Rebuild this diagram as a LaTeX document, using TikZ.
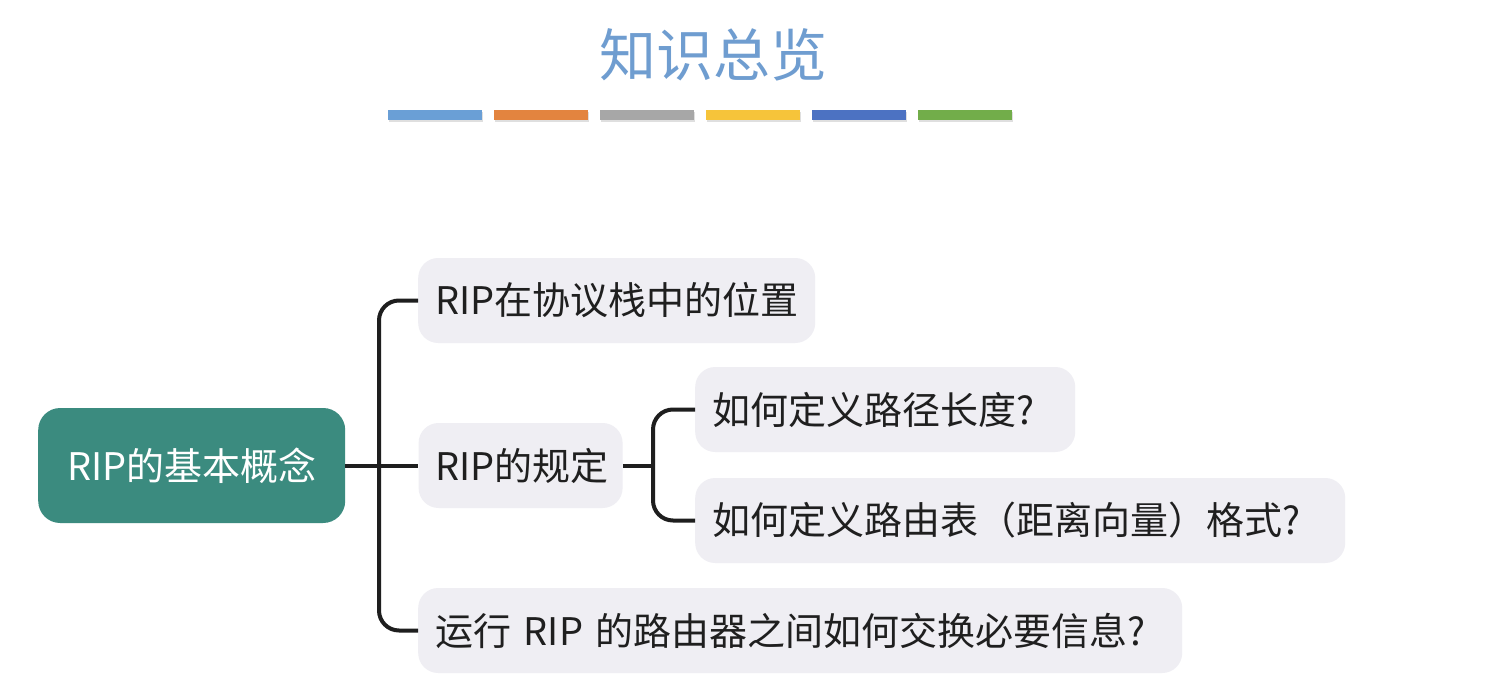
\documentclass[tikz,border=0pt]{standalone}
\usepackage{fontspec}
\setmainfont{Noto Sans CJK SC}
\usepackage{tikz}
\usetikzlibrary{positioning,shadows}
\usepackage{xcolor}

\definecolor{titleblue}{HTML}{6F9DD0}
\definecolor{rootteal}{HTML}{3B8B7F}
\definecolor{leafgray}{HTML}{EFEEF3}
\definecolor{linedark}{HTML}{1E1E1E}
\definecolor{barA}{HTML}{6A9FD6}
\definecolor{barB}{HTML}{E3843F}
\definecolor{barC}{HTML}{A7A7A7}
\definecolor{barD}{HTML}{F6C43A}
\definecolor{barE}{HTML}{4C72C2}
\definecolor{barF}{HTML}{72AD4A}

\begin{document}
\begin{tikzpicture}[x=1pt, y=-1pt,
    every node/.style={font=\fontsize{38}{42}\selectfont},
    rootbox/.style={rounded corners=22pt, fill=rootteal, text=white, minimum width=307pt, minimum height=115pt, inner sep=0pt},
    leaf/.style={rounded corners=20pt, fill=leafgray, text=black!88, minimum height=85pt, inner xsep=17pt, inner ysep=0pt, align=left},
    branch/.style={draw=linedark, line width=4pt, rounded corners=20pt},
    bar/.style={minimum width=94pt, minimum height=10pt, inner sep=0pt, drop shadow={shadow xshift=0.5pt, shadow yshift=-2pt, opacity=0.25}}]
    \useasboundingbox[fill=white] (0,0) rectangle (1491,698);

    % title and colour strip
    \node[text=titleblue, font=\fontsize{57}{60}\selectfont] (title) at (713,55) {知识总览};
    \foreach \c [count=\i from 0] in {barA,barB,barC,barD,barE,barF}
        \node[bar, fill=\c, anchor=north west] (bar\i) at (388+106*\i,110) {};

    % mind map
    \node[rootbox, anchor=west] (root) at (38,465.5) {RIP的基本概念};
    \node[leaf, text width=170pt, right=73pt of root] (rule) {RIP的规定};
    \node[leaf, text width=363pt, anchor=west] (place) at (418,300.5) {RIP在协议栈中的位置};
    \node[leaf, text width=730pt, anchor=west] (exchange) at (418,630.5) {运行 RIP 的路由器之间如何交换必要信息?};
    \node[leaf, text width=346pt, anchor=west] (pathlen) at (695,409.5) {如何定义路径长度?};
    \node[leaf, text width=616pt, anchor=west] (table) at (695,520.5) {如何定义路由表（距离向量）格式?};

    \draw[branch] (place.west) -- ++(-39,0) |- (exchange.west);
    \draw[branch] (root.east) -- (rule.west);
    \draw[branch] (pathlen.west) -- ++(-42,0) coordinate (fork) |- (table.west);
    \draw[branch] (rule.east) -- (rule.east -| fork);
\end{tikzpicture}
\end{document}
